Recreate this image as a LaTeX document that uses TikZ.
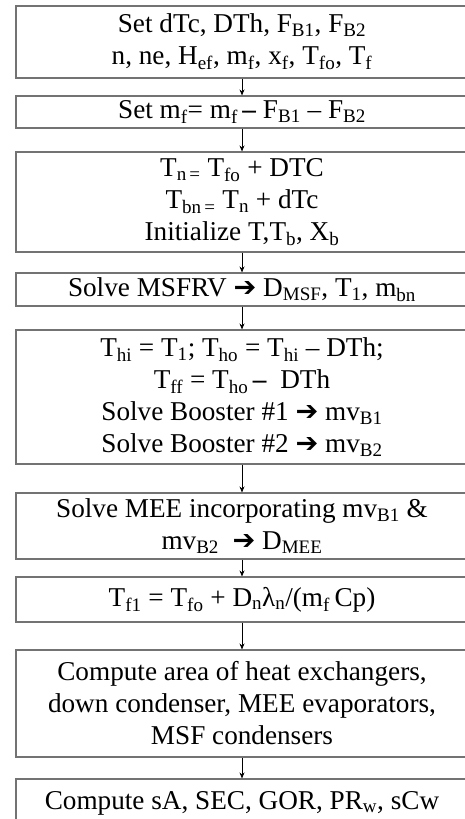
\documentclass[tikz,border=0pt]{standalone}
\usepackage{fontspec}
\setmainfont{Liberation Serif}
\newfontfamily\arrowfont{DejaVu Sans}
\usetikzlibrary{arrows.meta}
\newcommand\lo[1]{\textsubscript{#1}}
\newcommand\thento{{\arrowfont\char"2794}}
\newcommand\bigdash{\textbf{–}}
\newcommand\flowfont{\fontsize{27.2}{32}\selectfont}
\tikzset{
  % Блок
  flow box/.style   = {draw=black!55, line width=1.1pt,
                       minimum width=452pt, inner sep=0pt,
                       align=center, font=\flowfont},
  % Стрелки
  flow arrow/.style = {line width=0.8pt, -{Stealth[length=6pt,width=5pt]}},
}
\begin{document}
\begin{tikzpicture}[x=1pt, y=-1pt]
  \useasboundingbox (0,0) rectangle (465,819);
  \clip (0,0) rectangle (465,819);
%---------------------------------------------
  \node[flow box, minimum height=72pt] (init) at (242,42)
       {Set dTc, DTh, F\lo{B1}, F\lo{B2}\\
        n, ne, H\lo{ef}, m\lo{f}, x\lo{f}, T\lo{fo}, T\lo{f}};
  \node[flow box, minimum height=32pt] (feed) at (242,112)
       {Set m\lo{f}= m\lo{f}\,\bigdash{} F\lo{B1} – F\lo{B2}};
  \node[flow box, minimum height=100pt] (temp) at (242,202)
       {T\lo{n\,=} T\lo{fo} + DTC\\
        T\lo{bn\,=} T\lo{n} + dTc\\
        Initialize T,T\lo{b}, X\lo{b}};
  \node[flow box, minimum height=33pt] (msf) at (242,289.5)
       {Solve MSFRV \thento{} D\lo{MSF}, T\lo{1}, m\lo{bn}};
  \node[flow box, minimum height=134pt] (boost) at (242,397)
       {T\lo{hi} = T\lo{1}; T\lo{ho} = T\lo{hi} – DTh;\\
        T\lo{ff} = T\lo{ho}\,\bigdash\ \ DTh\\
        Solve Booster \#1 \thento{} mv\lo{B1}\\
        Solve Booster \#2 \thento{} mv\lo{B2}};
  \node[flow box, minimum height=66pt] (mee) at (242,526)
       {Solve MEE incorporating mv\lo{B1} \&\\
        mv\lo{B2}\ \ \thento{} D\lo{MEE}};
  \node[flow box, minimum height=45pt] (tf) at (242,599.5)
       {T\lo{f1} = T\lo{fo} + D\lo{n}λ\lo{n}/(m\lo{f}\,Cp)};
  \node[flow box, minimum height=107pt] (area) at (242,703.5)
       {Compute area of heat exchangers,\\
        down condenser, MEE evaporators,\\
        MSF condensers};
  \node[flow box, minimum height=48pt] (perf) at (242,803)
       {Compute sA, SEC, GOR, PR\lo{w}, sCw};
%---------------------------------------------
  \foreach \a/\b in {init/feed, feed/temp, temp/msf, msf/boost,
                     boost/mee, mee/tf, tf/area, area/perf}
    \draw[flow arrow] (\a) -- (\b);
\end{tikzpicture}
\end{document}
